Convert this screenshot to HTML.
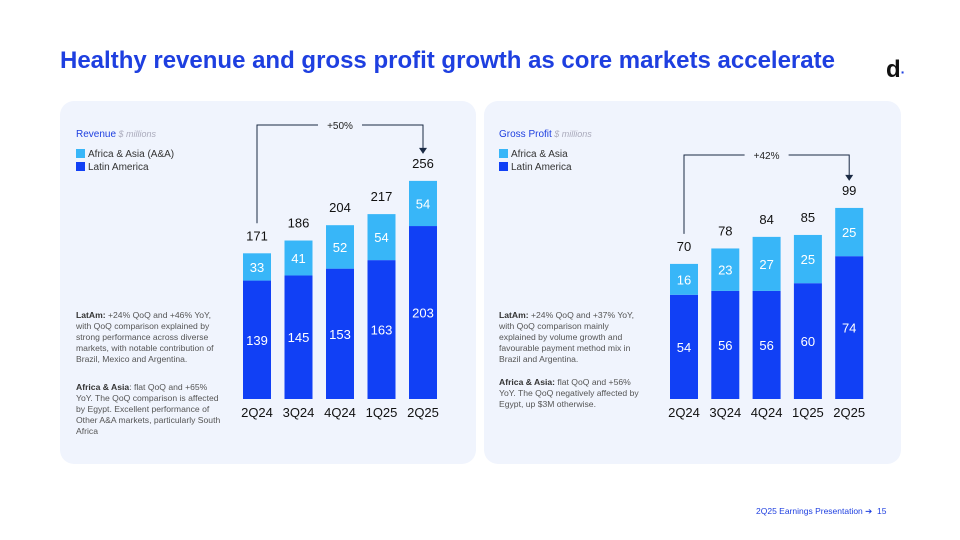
<!DOCTYPE html>
<html><head><meta charset="utf-8">
<style>
body{margin:0;width:960px;height:540px;background:#fff;font-family:"Liberation Sans",sans-serif;position:relative;overflow:hidden}
.abs{position:absolute}
.panel{position:absolute;top:101px;height:363px;background:#f0f4fd;border-radius:14px}
.note{position:absolute;font-size:8.6px;color:#555;line-height:11px}
.note b{color:#333}
</style></head><body>
<div class="abs" style="left:60px;top:47px;font-size:24px;font-weight:bold;color:#1e3fe0;letter-spacing:0px">Healthy revenue and gross profit growth as core markets accelerate</div>
<div class="abs" style="left:886px;top:56px;font-size:24px;font-weight:bold;color:#111">d<span style="color:#1e3fe0;font-size:14px">·</span></div>
<div class="panel" style="left:60px;width:416px"></div>
<div class="panel" style="left:484px;width:417px"></div>
<div class="note" style="left:76px;top:310px;width:150px"><b>LatAm:</b> +24% QoQ and +46% YoY, with QoQ comparison explained by strong performance across diverse markets, with notable contribution of Brazil, Mexico and Argentina.</div>
<div class="note" style="left:76px;top:382px;width:148px"><b>Africa &amp; Asia</b>: flat QoQ and +65% YoY. The QoQ comparison is affected by Egypt. Excellent performance of Other A&amp;A markets, particularly South Africa</div>
<div class="note" style="left:499px;top:310px;width:142px"><b>LatAm:</b> +24% QoQ and +37% YoY, with QoQ comparison mainly explained by volume growth and favourable payment method mix in Brazil and Argentina.</div>
<div class="note" style="left:499px;top:377px;width:142px"><b>Africa &amp; Asia:</b> flat QoQ and +56% YoY. The QoQ negatively affected by Egypt, up $3M otherwise.</div>
<div class="abs" style="left:756px;top:506px;font-size:8.5px;color:#1e3fe0">2Q25 Earnings Presentation ➔ &nbsp;15</div>
<svg id="svg" class="abs" style="left:0;top:0" width="960" height="540"></svg>
<script>
const categories=["2Q24","3Q24","4Q24","1Q25","2Q25"];
const revLatam=[139,145,153,163,203];
const revAA=[33,41,52,54,54];
const revTotal=[171,186,204,217,256];
const gpLatam=[54,56,56,60,74];
const gpAA=[16,23,27,25,25];
const gpTotal=[70,78,84,85,99];
const NS="http://www.w3.org/2000/svg";
const svg=document.getElementById('svg');
function mk(t,a,txt){const e=document.createElementNS(NS,t);for(const k in a)e.setAttribute(k,a[k]);if(txt!=null)e.textContent=txt;svg.appendChild(e);return e;}
function chart(cfg){
  const x=i=>cfg.x0+i*cfg.step, y=v=>cfg.base-v*cfg.scale, w=28;
  let t=mk('text',{x:cfg.lx,y:137,'font-size':10,fill:'#1e3fe0'});t.innerHTML=cfg.title+'<tspan fill="#aab" font-style="italic" font-size="9"> $ millions</tspan>';
  
  
  [[cfg.legA,'#38b6f8',149],[ 'Latin America','#1140f5',162]].forEach((l,k)=>{
    const r=mk('rect',{x:cfg.lx,y:l[2],width:9,height:9,fill:l[1]});
    
    
    const tx=mk('text',{x:cfg.lx+12,y:l[2]+8,'font-size':10,fill:'#333'},l[0]);
    
    
  });
  categories.forEach((c,i)=>{
    const la=cfg.latam[i],aa=cfg.aa[i],tot=cfg.total[i];
    const r1=mk('rect',{x:x(i),y:y(la),width:w,height:la*cfg.scale,fill:'#1140f5'});
    
    
    const r2=mk('rect',{x:x(i),y:y(tot),width:w,height:(tot-la)*cfg.scale,fill:'#38b6f8'});
    
    
    mk('text',{x:x(i)+w/2,y:y(la/2)+5,'font-size':13,fill:'#fff','text-anchor':'middle'},la);
    mk('text',{x:x(i)+w/2,y:y(la+(tot-la)/2)+5,'font-size':13,fill:'#fff','text-anchor':'middle'},aa);
    const tl=mk('text',{x:x(i)+w/2,y:y(tot)-13,'font-size':13,fill:'#111','text-anchor':'middle'},tot);
    
    
    const cl=mk('text',{x:x(i)+w/2,y:cfg.base+18,'font-size':13,fill:'#111','text-anchor':'middle'},c);
    
    
  });
  const x1=x(0)+w/2,x2=x(4)+w/2,by=cfg.by,mid=(x1+x2)/2;
  mk('path',{d:`M${x1} ${y(cfg.total[0])-30}V${by}H${mid-22}M${mid+22} ${by}H${x2}V${y(cfg.total[4])-31}`,stroke:'#1a2a44',fill:'none','stroke-width':1});
  mk('path',{d:`M${x2-4} ${y(cfg.total[4])-33}L${x2+4} ${y(cfg.total[4])-33}L${x2} ${y(cfg.total[4])-27}Z`,fill:'#1a2a44'});
  const g=mk('text',{x:mid,y:by+4,'font-size':10,fill:'#222','text-anchor':'middle'},cfg.growth);
  
  
}
chart({id:'revenue',title:'Revenue',legA:'Africa & Asia (A&A)',lx:76,x0:243,step:41.5,base:399,scale:0.852,latam:revLatam,aa:revAA,total:revTotal,by:125,growth:'+50%'});
chart({id:'gross-profit',title:'Gross Profit',legA:'Africa & Asia',lx:499,x0:670,step:41.3,base:399,scale:1.93,latam:gpLatam,aa:gpAA,total:gpTotal,by:155,growth:'+42%'});
</script>
</body></html>
